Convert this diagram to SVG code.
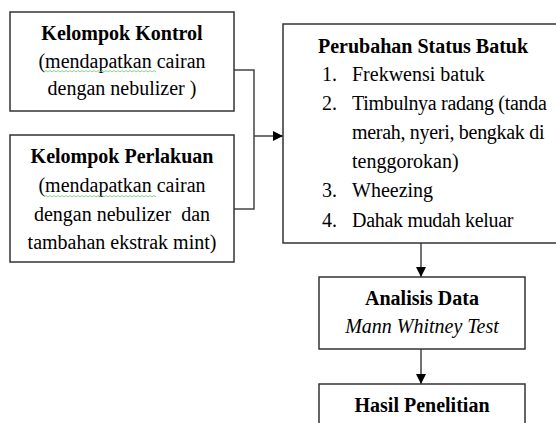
<svg xmlns="http://www.w3.org/2000/svg" width="556" height="423" viewBox="0 0 556 423">
<defs>
<style>
.box{fill:#fff;stroke:#333;stroke-width:1.5}
.t{font-family:"Liberation Serif","Times New Roman",serif;font-size:20px;fill:#000}
.b{font-weight:bold}
.c{text-anchor:middle}
.i{font-style:italic}
.conn{fill:none;stroke:#444;stroke-width:1.5}
.wave{fill:none;stroke:#6c6;stroke-width:0.8}
</style>
<marker id="arr" viewBox="0 0 10 10" refX="10" refY="5" markerWidth="10" markerHeight="10" markerUnits="userSpaceOnUse" orient="auto">
<path d="M0,0 L10,5 L0,10 Z" fill="#000"/>
</marker>
</defs>
<rect width="556" height="423" fill="#fff"/>
<g id="connectors">
<polyline class="conn" points="234,70 254,70 254,209 234,209"/>
<line class="conn" x1="254" y1="136" x2="283" y2="136" marker-end="url(#arr)"/>
<line class="conn" x1="421" y1="243" x2="421" y2="277" marker-end="url(#arr)"/>
<line class="conn" x1="421" y1="349" x2="421" y2="384" marker-end="url(#arr)"/>
</g>
<g id="kontrol">
<rect class="box" x="10" y="12" width="224" height="99"/>
<text class="t b c" x="122" y="40">Kelompok Kontrol</text>
<text class="t c" x="122" y="68">(mendapatkan cairan</text>
<text class="t c" x="122" y="95">dengan nebulizer )</text>
<path class="wave" d="M44,72 l2,-1.5 l2,1.5 l2,-1.5 l2,1.5 l2,-1.5 l2,1.5 l2,-1.5 l2,1.5 l2,-1.5 l2,1.5 l2,-1.5 l2,1.5 l2,-1.5 l2,1.5 l2,-1.5 l2,1.5 l2,-1.5 l2,1.5 l2,-1.5 l2,1.5 l2,-1.5 l2,1.5 l2,-1.5 l2,1.5 l2,-1.5 l2,1.5 l2,-1.5 l2,1.5 l2,-1.5 l2,1.5 l2,-1.5 l2,1.5 l2,-1.5 l2,1.5 l2,-1.5 l2,1.5 l2,-1.5 l2,1.5 l2,-1.5 l2,1.5 l2,-1.5 l2,1.5 l2,-1.5 l2,1.5 l2,-1.5 l2,1.5 l2,-1.5 l2,1.5 l2,-1.5 l2,1.5 l2,-1.5 l2,1.5 l2,-1.5 l2,1.5 l2,-1.5 l2,1.5"/>
</g>
<g id="perlakuan">
<rect class="box" x="10" y="135" width="224" height="127"/>
<text class="t b c" x="122" y="163">Kelompok Perlakuan</text>
<text class="t c" x="122" y="192">(mendapatkan cairan</text>
<text class="t c" x="122" y="221" xml:space="preserve">dengan nebulizer  dan</text>
<text class="t c" x="122" y="249">tambahan ekstrak mint)</text>
<path class="wave" d="M44,197 l2,-1.5 l2,1.5 l2,-1.5 l2,1.5 l2,-1.5 l2,1.5 l2,-1.5 l2,1.5 l2,-1.5 l2,1.5 l2,-1.5 l2,1.5 l2,-1.5 l2,1.5 l2,-1.5 l2,1.5 l2,-1.5 l2,1.5 l2,-1.5 l2,1.5 l2,-1.5 l2,1.5 l2,-1.5 l2,1.5 l2,-1.5 l2,1.5 l2,-1.5 l2,1.5 l2,-1.5 l2,1.5 l2,-1.5 l2,1.5 l2,-1.5 l2,1.5 l2,-1.5 l2,1.5 l2,-1.5 l2,1.5 l2,-1.5 l2,1.5 l2,-1.5 l2,1.5 l2,-1.5 l2,1.5 l2,-1.5 l2,1.5 l2,-1.5 l2,1.5 l2,-1.5 l2,1.5 l2,-1.5 l2,1.5 l2,-1.5 l2,1.5 l2,-1.5 l2,1.5"/>
</g>
<g id="status">
<rect class="box" x="283" y="24" width="280" height="219"/>
<text class="t b" x="318" y="53">Perubahan Status Batuk</text>
<text class="t" x="322" y="81">1.</text>
<text class="t" x="352" y="81">Frekwensi batuk</text>
<text class="t" x="322" y="110">2.</text>
<text class="t" x="352" y="110" letter-spacing="-0.3">Timbulnya radang (tanda</text>
<text class="t" x="352" y="139" letter-spacing="-0.3">merah, nyeri, bengkak di</text>
<text class="t" x="352" y="168">tenggorokan)</text>
<text class="t" x="322" y="197">3.</text>
<text class="t" x="352" y="197">Wheezing</text>
<text class="t" x="322" y="227">4.</text>
<text class="t" x="352" y="227" letter-spacing="-0.3">Dahak mudah keluar</text>
</g>
<g id="analisis">
<rect class="box" x="319" y="277" width="206" height="72"/>
<text class="t b c" x="422" y="305">Analisis Data</text>
<text class="t i c" x="422" y="333">Mann Whitney Test</text>
</g>
<g id="hasil">
<rect class="box" x="319" y="384" width="206" height="60"/>
<text class="t b c" x="422" y="412">Hasil Penelitian</text>
</g>
</svg>
